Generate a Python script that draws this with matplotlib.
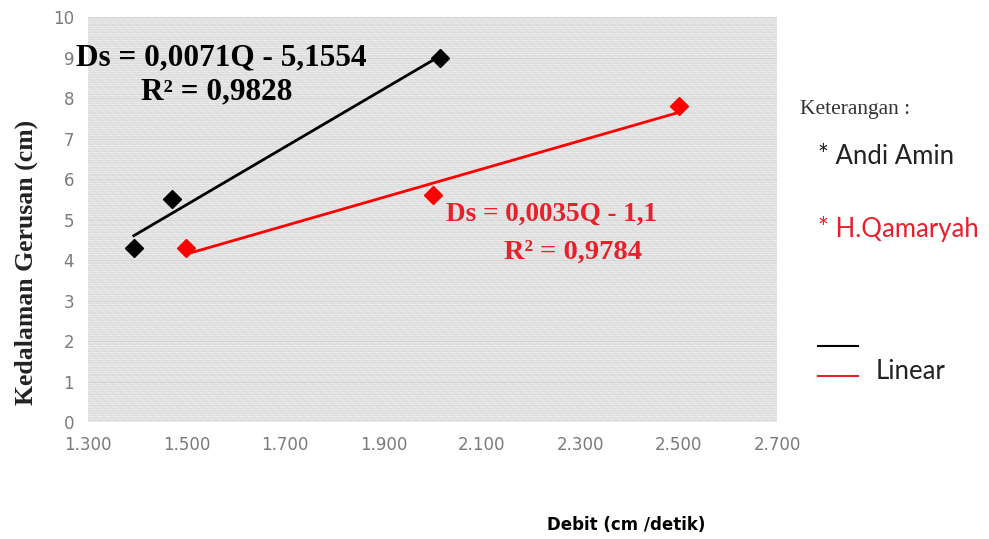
import numpy as np
import matplotlib.pyplot as plt
from matplotlib.patches import Rectangle
from matplotlib.ticker import FuncFormatter

# data
andi_q = [1393, 1470, 2015]
andi_ds = [4.3, 5.5, 9.0]
qamar_q = [1500, 2000, 2500]
qamar_ds = [4.3, 5.6, 7.8]
x_ticks = [1300, 1500, 1700, 1900, 2100, 2300, 2500, 2700]
y_ticks = list(range(0, 11))

plt.rcParams['hatch.linewidth'] = 1.3

fig = plt.figure(figsize=(9.89, 5.39), dpi=100)
ax = fig.add_axes([0.089, 0.217, 0.697, 0.751])

# patterned plot area (Excel-like texture): light base, white diagonal streaks, gray rows
ax.patch.set_facecolor('#efefef')
ax.add_patch(Rectangle((0, 0), 1, 1, transform=ax.transAxes, facecolor='none',
                       edgecolor='white', hatch='\\\\\\\\', lw=0, zorder=0.5))
ax.add_patch(Rectangle((0, 0), 1, 1, transform=ax.transAxes, facecolor='none',
                       edgecolor='#dddddd', hatch='-------', lw=0, zorder=0.6))

for y in y_ticks:
    ax.axhline(y, color='#d4d4d4', lw=0.8, zorder=1)

# trend lines (least squares) over the data range
for q, ds, col in [(andi_q, andi_ds, 'black'), (qamar_q, qamar_ds, '#ff0000')]:
    m, b = np.polyfit(q, ds, 1)
    xs = np.array([min(q), max(q)])
    ax.plot(xs, m * xs + b, color=col, lw=2, zorder=3)
    ax.plot(q, ds, linestyle='none', marker='D', markersize=9, color=col, zorder=4)

ax.set_xlim(1300, 2700)
ax.set_ylim(0, 10)
ax.set_xticks(x_ticks)
ax.set_yticks(y_ticks)
ax.xaxis.set_major_formatter(FuncFormatter(lambda v, p: f"{v/1000:.3f}"))
ax.tick_params(length=0, labelsize=12, colors='#7a7a7a', pad=10)
for s in ax.spines.values():
    s.set_visible(False)

serif = 'Liberation Serif'
fig.text(0.027, 0.514, 'Kedalaman Gerusan (cm)', family=serif, fontweight='bold',
         fontsize=18.5, color='#222222', rotation=90, ha='center', va='center')

fig.text(0.224, 0.893, 'Ds = 0,0071Q - 5,1554', family=serif, fontweight='bold',
         fontsize=22.5, ha='center', va='center')
fig.text(0.219, 0.829, 'R² = 0,9828', family=serif, fontweight='bold',
         fontsize=22.5, ha='center', va='center')
fig.text(0.558, 0.603, 'Ds = 0,0035Q - 1,1', family=serif, fontweight='bold',
         fontsize=19.5, ha='center', va='center', color='#e8202a')
fig.text(0.579, 0.533, 'R² = 0,9784', family=serif, fontweight='bold',
         fontsize=20.5, ha='center', va='center', color='#e8202a')

# manual legend on the right
fig.text(0.809, 0.796, 'Keterangan :', family=serif, fontsize=15.5, color='#333333', va='center')
fig.text(0.827, 0.709, '* Andi Amin', family='Lato', fontsize=18.5, color='#222222', va='center')
fig.text(0.827, 0.575, '* H.Qamaryah', family='Lato', fontsize=18.5, color='#e8202a', va='center')
fig.add_artist(plt.Line2D([0.827, 0.868], [0.358, 0.358], color='black', lw=1.5))
fig.add_artist(plt.Line2D([0.827, 0.868], [0.302, 0.302], color='#e8202a', lw=1.5))
fig.text(0.885, 0.31, 'Linear', family='Lato', fontsize=18.5, color='#222222', va='center')

fig.text(0.633, 0.026, 'Debit (cm /detik)', family='Liberation Sans Narrow', fontweight='bold',
         fontsize=12, ha='center', va='center')

fig.savefig('out.png', dpi=100)
